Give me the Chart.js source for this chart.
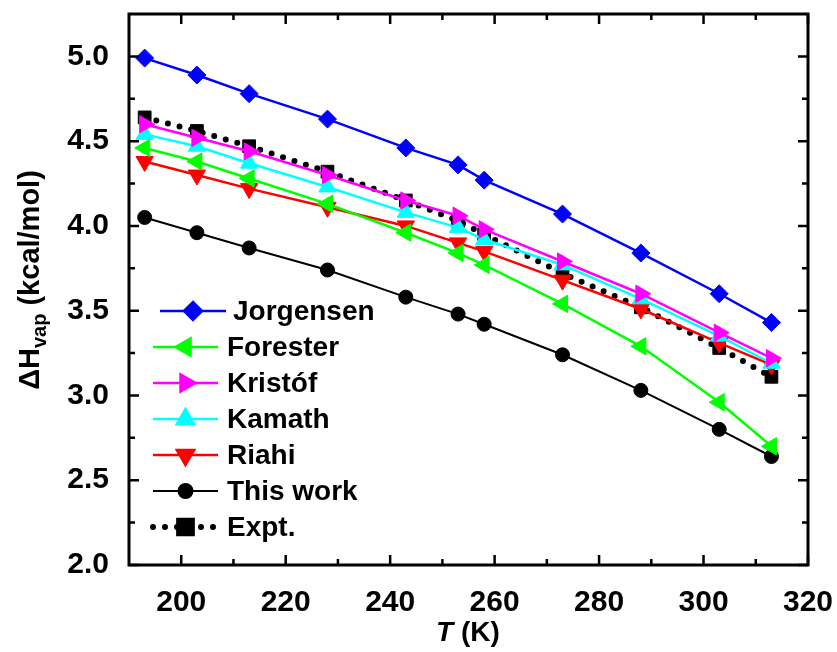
<!DOCTYPE html>
<html>
<head>
<meta charset="utf-8">
<script src="https://cdn.jsdelivr.net/npm/chart.js@4"></script>
<style>
  html, body { margin: 0; padding: 0; background: #fff; }
  #wrap { width: 837px; height: 652px; }
</style>
</head>
<body>
<div id="wrap"><canvas id="hvapChart" width="837" height="652"></canvas></div>
<script>
// temperatures (K)
const temps = [193, 203, 213, 228, 243, 253, 258, 273, 288, 303, 313];

// heat of vaporization (kcal/mol)
const jorgensen = [4.99, 4.89, 4.78, 4.63, 4.46, 4.36, 4.27, 4.07, 3.84, 3.60, 3.43];
const forester  = [4.46, 4.38, 4.28, 4.13, 3.96, 3.84, 3.77, 3.54, 3.29, 2.96, 2.70];
const kristof   = [4.60, 4.52, 4.44, 4.30, 4.15, 4.06, 3.98, 3.79, 3.60, 3.37, 3.22];
const kamath    = [4.54, 4.47, 4.37, 4.23, 4.08, 3.99, 3.92, 3.77, 3.57, 3.35, 3.19];
const riahi     = [4.38, 4.30, 4.22, 4.11, 4.00, 3.90, 3.85, 3.68, 3.51, 3.31, 3.18];
const thisWork  = [4.05, 3.96, 3.87, 3.74, 3.58, 3.48, 3.42, 3.24, 3.03, 2.80, 2.64];
const expt      = [4.64, 4.56, 4.47, 4.32, 4.15, 4.03, 3.95, 3.72, 3.52, 3.28, 3.11];

const xTicks = [200, 220, 240, 260, 280, 300, 320];
const xMinor = [210, 230, 250, 270, 290, 310];
const yTicks = [2.0, 2.5, 3.0, 3.5, 4.0, 4.5, 5.0];
const yMinor = [2.25, 2.75, 3.25, 3.75, 4.25, 4.75];

const FONT = "'Liberation Sans', Arial, sans-serif";

const pts = arr => arr.map((v, i) => ({ x: temps[i], y: v }));

const datasets = [
  { label: 'Jorgensen', data: pts(jorgensen), borderColor: '#0000ff', backgroundColor: '#0000ff',
    pointStyle: 'rectRot', pointRadius: 9, borderWidth: 2.5 },
  { label: 'Forester', data: pts(forester), borderColor: '#00ff00', backgroundColor: '#00ff00',
    pointStyle: 'triangle', pointRotation: -90, pointRadius: 10, borderWidth: 2.5 },
  { label: 'Kristóf', data: pts(kristof), borderColor: '#ff00ff', backgroundColor: '#ff00ff',
    pointStyle: 'triangle', pointRotation: 90, pointRadius: 10, borderWidth: 2.5 },
  { label: 'Kamath', data: pts(kamath), borderColor: '#00ffff', backgroundColor: '#00ffff',
    pointStyle: 'triangle', pointRotation: 0, pointRadius: 10, borderWidth: 2.5 },
  { label: 'Riahi', data: pts(riahi), borderColor: '#ff0000', backgroundColor: '#ff0000',
    pointStyle: 'triangle', pointRotation: 180, pointRadius: 10, borderWidth: 2.5 },
  { label: 'This work', data: pts(thisWork), borderColor: '#000000', backgroundColor: '#000000',
    pointStyle: 'circle', pointRadius: 7, borderWidth: 2 },
  { label: 'Expt.', data: pts(expt), borderColor: '#000000', backgroundColor: '#000000',
    pointStyle: 'rect', pointRadius: 9, borderWidth: 6, borderDash: [0, 12], borderCapStyle: 'round' }
];
datasets.forEach(d => {
  d.pointBorderWidth = 1;
  d.pointBackgroundColor = d.backgroundColor;
  d.pointBorderColor = d.borderColor;
  d.tension = 0;
  d.fill = false;
});

function marker(ctx, ds, x, y) {
  ctx.fillStyle = ds.backgroundColor;
  ctx.strokeStyle = ds.borderColor;
  ctx.setLineDash([]);
  Chart.helpers.drawPoint(ctx, {
    pointStyle: ds.pointStyle, rotation: ds.pointRotation || 0,
    radius: ds.pointRadius, borderWidth: 1
  }, x, y);
}

const decorPlugin = {
  id: 'decor',
  afterDraw(chart) {
    const { ctx, chartArea: a, scales: { x, y } } = chart;
    ctx.save();
    ctx.strokeStyle = '#000';
    ctx.lineWidth = 2.5;
    ctx.setLineDash([]);
    ctx.beginPath();
    const tick = (vals, len, isX) => {
      vals.forEach(v => {
        if (isX) {
          const px = x.getPixelForValue(v);
          ctx.moveTo(px, a.bottom); ctx.lineTo(px, a.bottom - len);
          ctx.moveTo(px, a.top); ctx.lineTo(px, a.top + len);
        } else {
          const py = y.getPixelForValue(v);
          ctx.moveTo(a.left, py); ctx.lineTo(a.left + len, py);
          ctx.moveTo(a.right, py); ctx.lineTo(a.right - len, py);
        }
      });
    };
    tick(xTicks, 10, true);
    tick(xMinor, 6, true);
    tick(yTicks, 10, false);
    tick(yMinor, 6, false);
    ctx.stroke();
    ctx.lineWidth = 3;
    ctx.strokeRect(a.left, a.top, a.right - a.left, a.bottom - a.top);

    // y title with subscript
    ctx.fillStyle = '#000';
    ctx.textBaseline = 'alphabetic';
    const big = 'bold 29px ' + FONT, small = 'bold 20px ' + FONT;
    ctx.font = big;
    const w1 = ctx.measureText('\u0394H').width;
    const w3 = ctx.measureText(' (kcal/mol)').width;
    ctx.font = small;
    const w2 = ctx.measureText('vap').width;
    const tot = w1 + w2 + w3;
    ctx.save();
    ctx.translate(39, 280);
    ctx.rotate(-Math.PI / 2);
    let cx = -tot / 2;
    ctx.font = big; ctx.fillText('\u0394H', cx, 0); cx += w1;
    ctx.font = small; ctx.fillText('vap', cx, 7); cx += w2;
    ctx.font = big; ctx.fillText(' (kcal/mol)', cx, 0);
    ctx.restore();

    // x title
    ctx.textBaseline = 'middle';
    const tFont = 'italic bold 28px ' + FONT;
    const kFont = 'bold 28px ' + FONT;
    ctx.font = tFont;
    const wt = ctx.measureText('T').width;
    ctx.font = kFont;
    const wk = ctx.measureText(' (K)').width;
    let tx = 468 - (wt + wk) / 2;
    ctx.font = tFont; ctx.fillText('T', tx, 633);
    ctx.font = kFont; ctx.fillText(' (K)', tx + wt, 633);

    // legend: line with centred marker
    const rowY = [311, 347, 383, 419, 455, 491, 527];
    chart.data.datasets.forEach((ds, i) => {
      const yy = rowY[i];
      const x0 = i === 0 ? 160 : 153, x1 = i === 0 ? 226 : 218;
      ctx.strokeStyle = ds.borderColor;
      ctx.lineWidth = ds.borderWidth;
      ctx.lineCap = ds.borderCapStyle || 'butt';
      ctx.setLineDash(ds.borderDash || []);
      ctx.beginPath();
      ctx.moveTo(x0, yy); ctx.lineTo(x1, yy);
      ctx.stroke();
      ctx.lineCap = 'butt';
      marker(ctx, ds, (x0 + x1) / 2, yy);
      ctx.fillStyle = '#000';
      ctx.font = 'bold 28px ' + FONT;
      ctx.textBaseline = 'middle';
      ctx.fillText(ds.label, i === 0 ? 233 : 227, yy + 1);
    });
    ctx.restore();
  }
};

const noPad = s => { s.paddingTop = 0; s.paddingBottom = 0; s.paddingLeft = 0; s.paddingRight = 0; };

new Chart(document.getElementById('hvapChart').getContext('2d'), {
  type: 'line',
  data: { datasets },
  options: {
    responsive: false,
    animation: false,
    layout: { padding: { left: 0, right: 29, top: 14, bottom: 0 } },
    plugins: { legend: { display: false }, tooltip: { enabled: false } },
    scales: {
      x: {
        type: 'linear', min: 190, max: 320,
        grid: { display: false, drawTicks: false },
        border: { display: false },
        afterFit: s => { s.height = 87; noPad(s); },
        afterBuildTicks: s => { s.ticks = xTicks.map(v => ({ value: v })); },
        ticks: { color: '#000', font: { family: FONT, size: 30, weight: 'bold' }, padding: 20,
                 maxRotation: 0, autoSkip: false }
      },
      y: {
        type: 'linear', min: 2.0, max: 5.25,
        grid: { display: false, drawTicks: false },
        border: { display: false },
        afterFit: s => { s.width = 129; noPad(s); },
        afterBuildTicks: s => { s.ticks = yTicks.map(v => ({ value: v })); },
        ticks: { color: '#000', font: { family: FONT, size: 30, weight: 'bold' }, padding: 20,
                 callback: v => Number(v).toFixed(1) }
      }
    }
  },
  plugins: [decorPlugin]
});
</script>
</body>
</html>
